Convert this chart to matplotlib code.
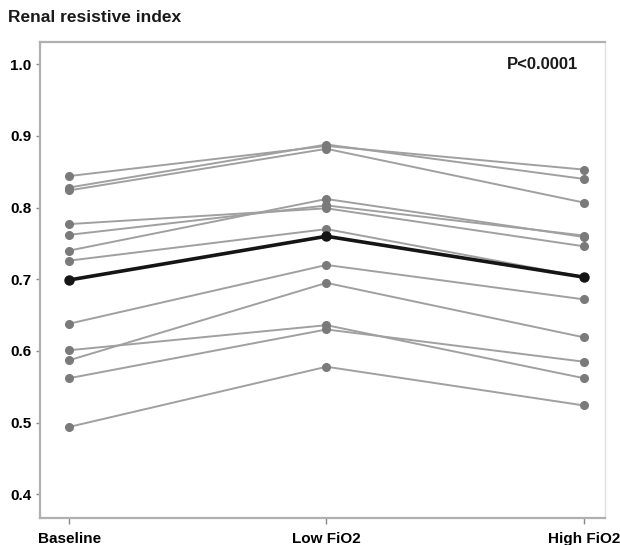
import matplotlib
matplotlib.use("Agg")
import matplotlib.pyplot as plt

plt.rcParams['font.family'] = ['Liberation Sans', 'DejaVu Sans']

categories = ["Baseline", "Low FiO2", "High FiO2"]
baseline = [0.844, 0.828, 0.824, 0.777, 0.762, 0.740, 0.726, 0.638, 0.601, 0.587, 0.562, 0.494]
low_fio2 = [0.886, 0.888, 0.882, 0.799, 0.803, 0.812, 0.770, 0.720, 0.636, 0.695, 0.630, 0.578]
high_fio2 = [0.853, 0.840, 0.807, 0.746, 0.761, 0.759, 0.703, 0.672, 0.562, 0.619, 0.585, 0.524]
mean_values = [0.699, 0.760, 0.703]
yticks = [0.4, 0.5, 0.6, 0.7, 0.8, 0.9, 1.0]
ytick_labels = ["0.4", "0.5", "0.6", "0.7", "0.8", "0.9", "1.0"]

fig = plt.figure(figsize=(6.2, 5.45), dpi=100)
ax = fig.add_axes([40/620, 27/545, 565/620, 476/545])

xs = list(range(len(categories)))
for b, l, h in zip(baseline, low_fio2, high_fio2):
    ax.plot(xs, [b, l, h], color='#a0a0a0', lw=1.4, marker='o', ms=5.5,
            mfc='#7a7a7a', mec='#7a7a7a', zorder=2)
ax.plot(xs, mean_values, color='#151515', lw=2.6, marker='o', ms=6.5,
        mfc='#151515', mec='#151515', zorder=3)

ax.set_xlim(-0.113, 2.082)
ax.set_ylim(0.367, 1.031)
ax.set_xticks(xs)
ax.set_xticklabels(categories, fontsize=11, fontweight='bold')
ax.set_yticks(yticks)
ax.set_yticklabels(ytick_labels, fontsize=11, fontweight='bold')
ax.tick_params(axis='both', direction='out', length=3, width=1, color='#888888', pad=3)
ax.tick_params(axis='x', length=4, pad=6)

for side in ['left', 'bottom', 'top', 'right']:
    ax.spines[side].set_color('#b0b0b0')
    ax.spines[side].set_linewidth(1.6)
ax.spines['right'].set_color('#e0e0e0')
ax.spines['right'].set_linewidth(1.0)

ax.text(0.952, 0.952, "P<0.0001", transform=ax.transAxes, ha='right', va='center',
        fontsize=12, fontweight='bold', color='#1a1a1a')
fig.text(8/620, 1 - 18/545, "Renal resistive index", ha='left', va='center',
         fontsize=12.5, fontweight='bold', color='#1a1a1a')

fig.savefig("out.png", dpi=100)
